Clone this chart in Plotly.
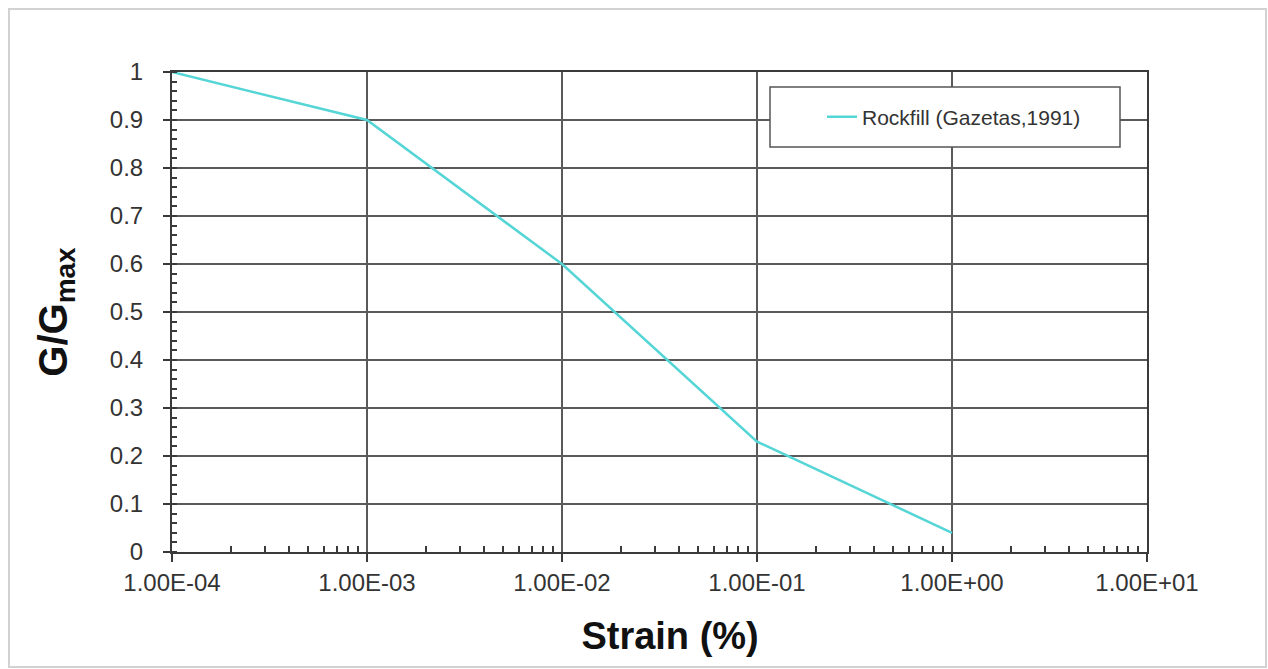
import plotly.graph_objects as go

# Modulus reduction curve for rockfill
strain_pct = [1e-4, 1e-3, 1e-2, 1e-1, 1e0]
g_ratio = [1.0, 0.90, 0.60, 0.23, 0.04]
series_name = "Rockfill (Gazetas,1991)"

x_tick_vals = [1e-4, 1e-3, 1e-2, 1e-1, 1e0, 1e1]
x_tick_text = ["1.00E-04", "1.00E-03", "1.00E-02", "1.00E-01", "1.00E+00", "1.00E+01"]
y_tick_vals = [0, 0.1, 0.2, 0.3, 0.4, 0.5, 0.6, 0.7, 0.8, 0.9, 1]
y_tick_text = ["0", "0.1", "0.2", "0.3", "0.4", "0.5", "0.6", "0.7", "0.8", "0.9", "1"]

W, H = 1268, 669
ML, MR, MT, MB = 172, 121, 72, 117
PW, PH = W - ML - MR, H - MT - MB


def px_x(p):
    return (p - ML) / PW


def px_y(p):
    return (H - MB - p) / PH


GRID = "#5a5a5a"
AXIS = "#3a3a3a"
FONT = "Liberation Sans, Arial, sans-serif"

fig = go.Figure()
fig.add_trace(go.Scatter(
    x=strain_pct, y=g_ratio, mode="lines", name=series_name,
    line=dict(color="#55d5d5", width=2.5),
))

minor_x = [k * 10 ** e for e in range(-4, 1) for k in range(2, 10)]

fig.update_layout(
    width=W, height=H, autosize=False,
    margin=dict(l=ML, r=MR, t=MT, b=MB, pad=0),
    paper_bgcolor="white", plot_bgcolor="white",
    font=dict(family=FONT, color="#222222", size=21),
    showlegend=True,
    legend=dict(
        x=px_x(822), y=px_y(117), xanchor="left", yanchor="middle",
        bgcolor="rgba(0,0,0,0)", borderwidth=0,
        font=dict(size=21, color="#333333"),
    ),
    xaxis=dict(
        type="log", range=[-4, 1],
        tickmode="array", tickvals=x_tick_vals, ticktext=x_tick_text,
        ticks="outside", ticklen=8, tickwidth=2, tickcolor=AXIS,
        showgrid=True, gridcolor=GRID, gridwidth=1.5,
        showline=True, linecolor=AXIS, linewidth=2, mirror=True,
        zeroline=False,
        tickfont=dict(size=24, color="#333333"),
        minor=dict(tickmode="array", tickvals=minor_x, ticks="inside",
                   ticklen=6, tickwidth=1.5, tickcolor=AXIS, showgrid=False),
        title=dict(text="<b>\u00a0\u00a0Strain (%)</b>", font=dict(size=38, color="#111111"),
                   standoff=28),
    ),
    yaxis=dict(
        range=[0, 1],
        tickmode="array", tickvals=y_tick_vals, ticktext=y_tick_text,
        ticks="outside", ticklen=7, tickwidth=2, tickcolor=AXIS,
        ticklabelstandoff=15,
        showgrid=True, gridcolor=GRID, gridwidth=1.5,
        showline=True, linecolor=AXIS, linewidth=2, mirror=True,
        zeroline=False,
        tickfont=dict(size=24, color="#333333"),
        minor=dict(dtick=0.02, ticks="inside", ticklen=5, tickwidth=1.5,
                   tickcolor=AXIS, showgrid=False),
        title=dict(text="<b>G/G<sub>max</sub></b>", font=dict(size=40, color="#111111"),
                   standoff=30),
    ),
    shapes=[
        # outer frame
        dict(type="rect", xref="paper", yref="paper", layer="below",
             x0=px_x(9), x1=px_x(1266), y0=px_y(667), y1=px_y(9),
             line=dict(color="#d2d2d2", width=2), fillcolor="rgba(0,0,0,0)"),
        # legend box
        dict(type="rect", xref="paper", yref="paper", layer="above",
             x0=px_x(770), x1=px_x(1120), y0=px_y(147), y1=px_y(87),
             line=dict(color="#555555", width=1.5), fillcolor="white"),
    ],
)

fig.write_html("out.html")
